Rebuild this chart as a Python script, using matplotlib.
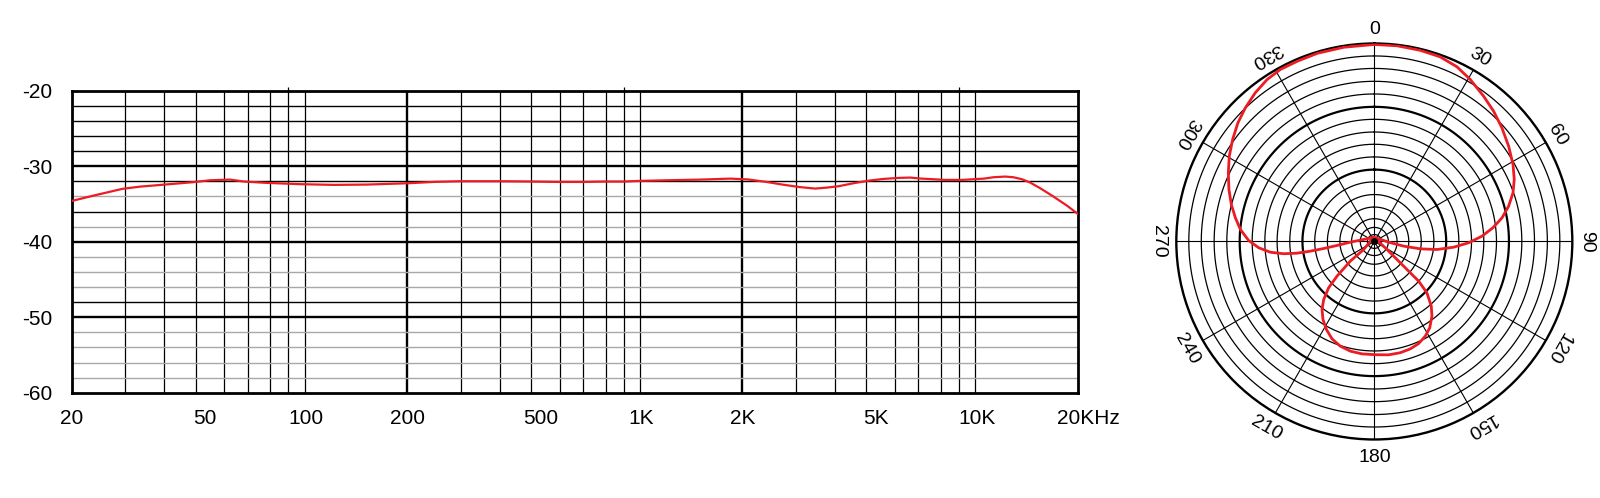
import numpy as np
import matplotlib.pyplot as plt

plt.rcParams['font.family'] = ['Liberation Sans', 'DejaVu Sans']

# frequency response (Hz, dB)
freq = [20, 23.7, 28.3, 32, 37, 45.8, 51.7, 55.9, 59.3, 65.4, 76.6, 86.7,
        96.8, 121, 152, 202, 240, 288, 377, 470, 569, 671, 781, 883, 993,
        1190, 1500, 1840, 2080, 2360, 2650, 2960, 3300, 3570, 3870, 4290,
        4780, 5270, 5840, 6330, 6840, 7420, 8010, 9060, 10100, 10500, 11200,
        12150, 12860, 13630, 14420, 15450, 16930, 18560, 20000]
level = [-34.6, -33.8, -33.0, -32.7, -32.47, -32.12, -31.86, -31.81, -31.77,
         -32.03, -32.21, -32.3, -32.38, -32.47, -32.43, -32.25, -32.08, -31.99,
         -31.99, -32.03, -32.08, -32.08, -32.03, -32.03, -31.94, -31.86, -31.77,
         -31.64, -31.75, -32.08, -32.45, -32.76, -32.96, -32.83, -32.65, -32.25,
         -31.9, -31.68, -31.55, -31.5, -31.64, -31.72, -31.81, -31.81, -31.68,
         -31.64, -31.46, -31.37, -31.46, -31.72, -32.16, -32.91, -34.02, -35.21,
         -36.31]

# polar pattern traced clockwise (degrees, radius relative to outer ring)
# front lobe, right half, into the null
front_deg = [0, 6.6, 13.5, 19.6, 25.3, 30.6, 37, 42.5, 48.3, 54.6, 61, 66.1,
             70.7, 75.3, 79.5, 83.4, 87.2, 90.8, 94.1, 97.3, 99.1, 99, 92.7,
             58.4, 351.3]
front_r = [0.995, 0.995, 0.993, 0.99, 0.976, 0.951, 0.918, 0.892, 0.863,
           0.832, 0.801, 0.773, 0.742, 0.701, 0.656, 0.603, 0.544, 0.476,
           0.402, 0.319, 0.235, 0.15, 0.072, 0.026, 0.022]
# rear lobe
rear_deg = [122.3, 130.1, 131.8, 134.3, 138.6, 142.3, 147.3, 151.7, 156.5,
            161.5, 166.9, 172.8, 179.5, 186.3, 192.3, 198, 203.5, 208.6,
            213.3, 217.6, 221.1, 224.6, 227.1, 230.7, 233.1, 351.3]
rear_r = [0.076, 0.194, 0.30, 0.371, 0.435, 0.476, 0.518, 0.543, 0.562,
          0.572, 0.577, 0.577, 0.572, 0.571, 0.567, 0.556, 0.536, 0.506,
          0.472, 0.433, 0.389, 0.329, 0.257, 0.157, 0.067, 0.022]
# left half of the front lobe, back to 0 degrees
left_deg = [280.6, 268.4, 263.9, 262.1, 261.4, 261.4, 262.3, 264.1, 266.9,
            270.5, 275.1, 279.7, 284.5, 289.7, 295.2, 300.5, 305.8, 311, 316,
            321.3, 326.5, 331.4, 337, 343.2, 351.1, 360]
left_r = [0.055, 0.121, 0.19, 0.258, 0.327, 0.395, 0.462, 0.528, 0.585,
          0.635, 0.679, 0.712, 0.746, 0.78, 0.815, 0.85, 0.882, 0.913, 0.938,
          0.962, 0.981, 0.99, 0.99, 0.993, 0.993, 0.995]

x_ticks = [20, 50, 100, 200, 500, 1000, 2000, 5000, 10000, 20000]
x_labels = ['20', '50', '100', '200', '500', '1K', '2K', '5K', '10K', '']
y_ticks = [-60, -50, -40, -30, -20]
angles = list(range(0, 360, 30))

RED = '#ec1c24'

fig = plt.figure(figsize=(16, 4.98), dpi=100)

# ---- frequency response ----
ax = fig.add_axes([0.0448, 0.2114, 0.6288, 0.6064])
ax.set_xscale('log')
ax.set_xlim(20, 20000)
ax.set_ylim(-60, -20)

# chart-paper grid (decade fractions as drawn on the template)
fracs = [0.16, 0.276, 0.37, 0.455, 0.525, 0.592, 0.646, 0.695]
for dec in [20, 200, 2000]:
    for f in fracs:
        ax.axvline(dec * 10 ** f, color='k', lw=0.9, zorder=1)
    # small marks above the frame
    ax.vlines(dec * 10 ** 0.646, -20, -19.45, color='k', lw=0.9, clip_on=False)
for f in [200, 2000]:
    ax.axvline(f, color='k', lw=1.7, zorder=1)

gray_minor = [-34, -38, -42, -44, -46, -52, -54, -56, -58]
for y in range(-58, -20, 2):
    if y % 10 == 0:
        continue
    c = '#a8a8a8' if y in gray_minor else 'k'
    ax.axhline(y, color=c, lw=1.0, zorder=1)
for y in [-30, -40, -50]:
    ax.axhline(y, color='k', lw=1.7, zorder=1)

for s in ax.spines.values():
    s.set_linewidth(2.0)

ax.plot(freq, level, color=RED, lw=1.6, zorder=3)

ax.set_xticks(x_ticks, x_labels)
ax.xaxis.set_minor_locator(plt.NullLocator())
ax.set_yticks(y_ticks, [str(v) for v in y_ticks])
ax.tick_params(length=0, labelsize=15)
ax.tick_params(axis='x', pad=12)
ax.tick_params(axis='y', pad=14)
ax.annotate('20KHz', xy=(20000, 0), xycoords=('data', 'axes fraction'),
            xytext=(-15, -12), textcoords='offset points',
            ha='left', va='top', fontsize=15)

# ---- polar pattern ----
pax = fig.add_axes([0.7352, 0.1175, 0.2475, 0.7952], projection='polar')
pax.set_theta_zero_location('N')
pax.set_theta_direction(-1)
pax.set_ylim(0, 1)
pax.set_yticks([])
pax.set_xticks(np.deg2rad(angles))
pax.set_xticklabels([])
pax.tick_params(length=0)
pax.xaxis.grid(True, color='k', lw=0.8)
pax.spines['polar'].set_linewidth(1.7)

rings = [0.937, 0.874, 0.809, 0.745, 0.680, 0.617, 0.553, 0.491, 0.427,
         0.363, 0.301, 0.237, 0.174, 0.115, 0.071, 0.035]
th = np.linspace(0, 2 * np.pi, 361)
for r in rings:
    lw = 1.6 if r in (0.680, 0.363) else 0.9
    pax.plot(th, np.full_like(th, r), color='k', lw=lw, zorder=1)

pat_deg = front_deg + rear_deg + left_deg
pat_r = front_r + rear_r + left_r
pax.plot(np.deg2rad(pat_deg), pat_r, color=RED, lw=2.0, zorder=3,
         solid_joinstyle='round')
pax.plot(0, 0, 'o', color='k', ms=4, zorder=4)

for a in angles:
    pax.text(np.deg2rad(a), 1.08, str(a), rotation=-(a % 180),
             rotation_mode='anchor', ha='center', va='center_baseline',
             fontsize=14)

fig.savefig('out.png', dpi=100)
